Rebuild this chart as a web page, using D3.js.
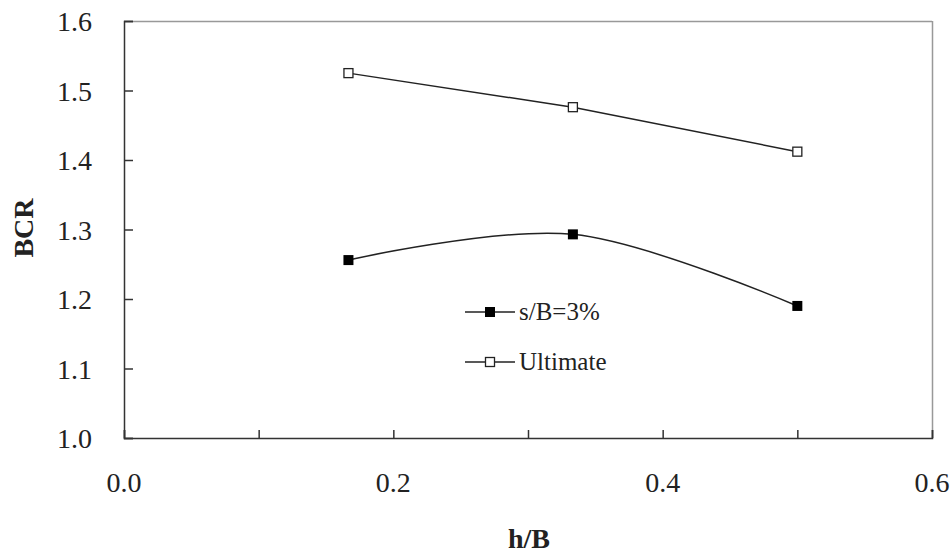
<!DOCTYPE html>
<html>
<script src="https://d3js.org/d3.v7.min.js"></script>
<style>
  body { margin: 0; background: white; }
  svg text { font-family: "Liberation Serif", "Times New Roman", Times, serif; fill: #222; }
</style>
<body>
<script>
// data
const hB = [1/6, 1/3, 1/2];
const bcrS3 = [1.256, 1.293, 1.19];
const bcrUlt = [1.525, 1.476, 1.412];
const xTicks = [0, 0.1, 0.2, 0.3, 0.4, 0.5, 0.6];
const xLabels = ["0.0", "", "0.2", "", "0.4", "", "0.6"];
const yTicks = [1.0, 1.1, 1.2, 1.3, 1.4, 1.5, 1.6];
const yLabels = ["1.0", "1.1", "1.2", "1.3", "1.4", "1.5", "1.6"];
const seriesNames = ["s/B=3%", "Ultimate"];

const width = 951, height = 553;
const svg = d3.select("body").append("svg").attr("width", width).attr("height", height)
  .attr("font-family", "'Liberation Serif', 'Times New Roman', serif");

const x = d3.scaleLinear().domain([0, 0.6]).range([124, 932]);
const y = d3.scaleLinear().domain([1.0, 1.6]).range([438, 21]);

// plot frame (top & right in grey)
svg.append("line").attr("x1", 124).attr("x2", 932).attr("y1", 21.5).attr("y2", 21.5)
  .attr("stroke", "#999").attr("stroke-width", 1.5);
svg.append("line").attr("x1", 932.5).attr("x2", 932.5).attr("y1", 21).attr("y2", 438)
  .attr("stroke", "#999").attr("stroke-width", 1.5);

// x axis, ticks pointing inward
const xAxis = svg.append("g").attr("transform", "translate(0,438)")
  .call(d3.axisTop(x).tickValues(xTicks).tickSize(8).tickFormat(""));
xAxis.select(".domain").attr("stroke", "#333").attr("stroke-width", 1.5);
xAxis.selectAll(".tick line").attr("stroke", "#333").attr("stroke-width", 1.5);
svg.append("g").selectAll("text").data(xTicks).enter().append("text")
  .attr("x", d => x(d)).attr("y", 492)
  .attr("text-anchor", "middle").attr("font-size", 28)
  .text((d, i) => xLabels[i]);

// y axis, ticks pointing inward
const yAxis = svg.append("g").attr("transform", "translate(124,0)")
  .call(d3.axisRight(y).tickValues(yTicks).tickSize(9).tickFormat(""));
yAxis.select(".domain").attr("stroke", "#333").attr("stroke-width", 1.5);
yAxis.selectAll(".tick line").attr("stroke", "#333").attr("stroke-width", 1.5);
svg.append("g").selectAll("text").data(yTicks).enter().append("text")
  .attr("x", 92).attr("y", d => y(d) + 10)
  .attr("text-anchor", "end").attr("font-size", 28)
  .text((d, i) => yLabels[i]);

// axis titles
svg.append("text").attr("x", 529).attr("y", 548).attr("text-anchor", "middle")
  .attr("font-size", 28).attr("font-weight", "bold").text("h/B");
svg.append("text").attr("transform", "translate(33,228) rotate(-90)")
  .attr("text-anchor", "middle").attr("font-size", 28).attr("font-weight", "bold").text("BCR");

// s/B=3% : smoothed line, filled squares
const s3 = hB.map((d, i) => [d, bcrS3[i]]);
svg.append("path").datum(s3)
  .attr("d", d3.line().x(d => x(d[0])).y(d => y(d[1])).curve(d3.curveCardinal.tension(0)))
  .attr("fill", "none").attr("stroke", "#222").attr("stroke-width", 1.5);
svg.append("g").selectAll("rect").data(s3).enter().append("rect")
  .attr("x", d => x(d[0]) - 5).attr("y", d => y(d[1]) - 5)
  .attr("width", 10).attr("height", 10).attr("fill", "#000");

// Ultimate : straight line, open squares
const ult = hB.map((d, i) => [d, bcrUlt[i]]);
svg.append("path").datum(ult)
  .attr("d", d3.line().x(d => x(d[0])).y(d => y(d[1])))
  .attr("fill", "none").attr("stroke", "#222").attr("stroke-width", 1.5);
svg.append("g").selectAll("rect").data(ult).enter().append("rect")
  .attr("x", d => x(d[0]) - 4.5).attr("y", d => y(d[1]) - 4.5)
  .attr("width", 9).attr("height", 9).attr("fill", "white")
  .attr("stroke", "#222").attr("stroke-width", 1.3);

// legend
const leg = svg.append("g");
seriesNames.forEach((name, i) => {
  const ly = 312 + i * 50;
  leg.append("line").attr("x1", 465).attr("x2", 515).attr("y1", ly).attr("y2", ly)
    .attr("stroke", "#222").attr("stroke-width", 1.5);
  if (i === 0) {
    leg.append("rect").attr("x", 485).attr("y", ly - 5).attr("width", 10).attr("height", 10).attr("fill", "#000");
  } else {
    leg.append("rect").attr("x", 485.5).attr("y", ly - 4.5).attr("width", 9).attr("height", 9)
      .attr("fill", "white").attr("stroke", "#222").attr("stroke-width", 1.3);
  }
  leg.append("text").attr("x", 519).attr("y", ly + 8).attr("font-size", 25).text(name);
});
</script>
</body>
</html>
